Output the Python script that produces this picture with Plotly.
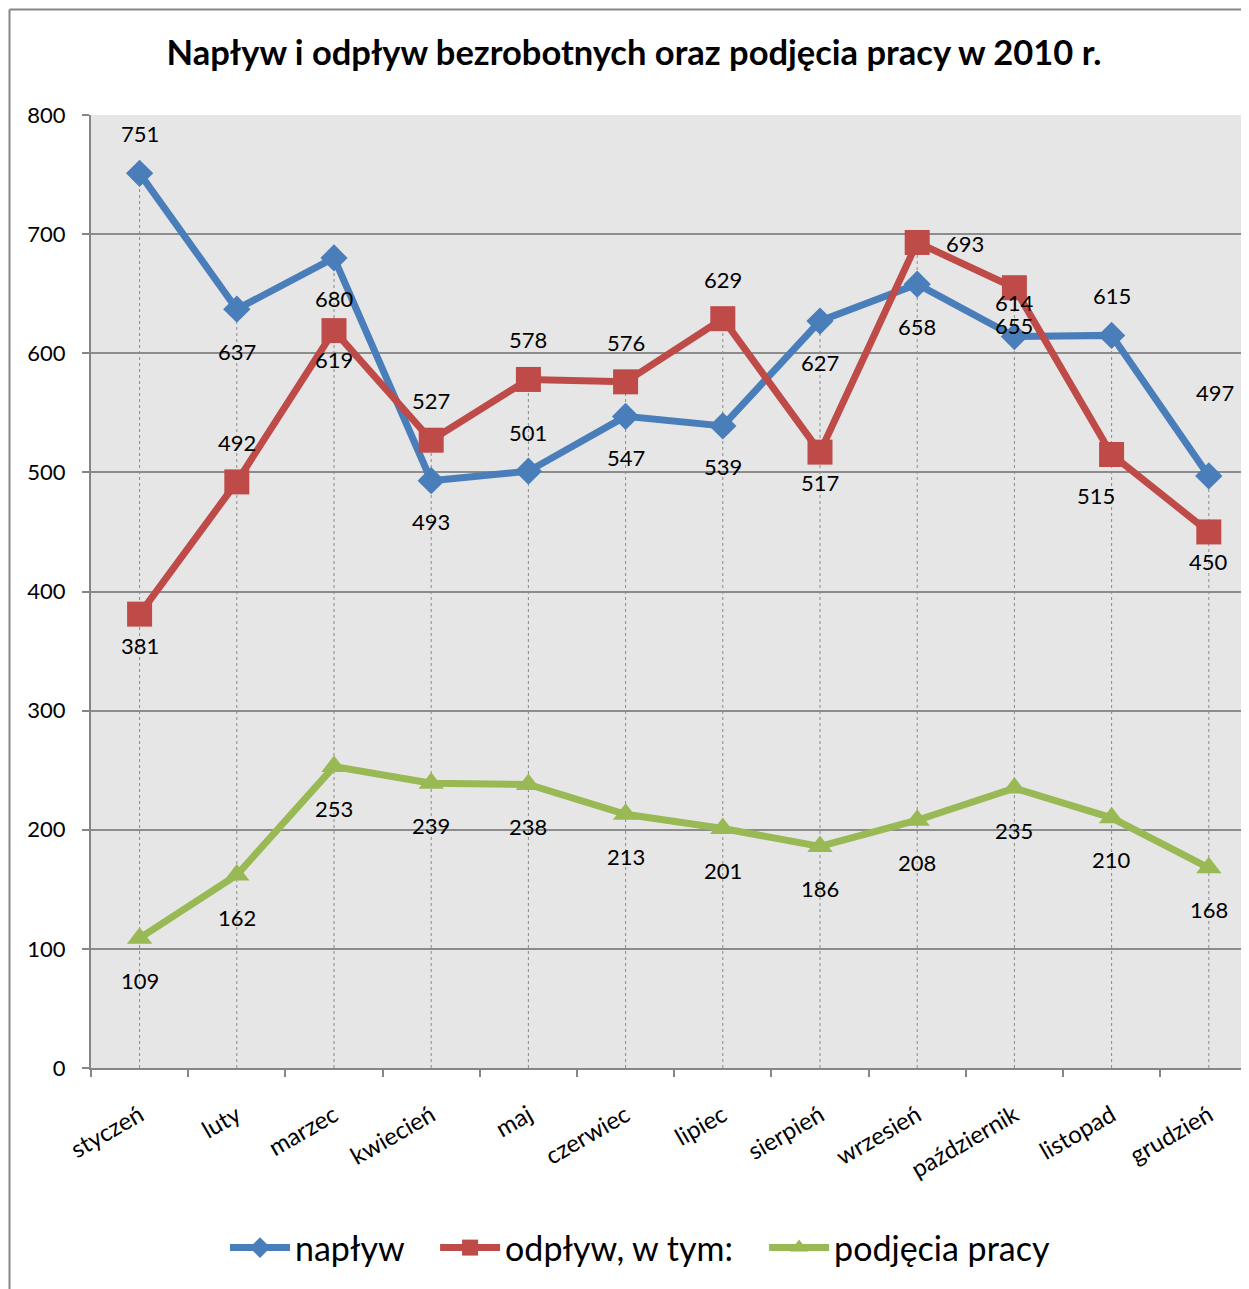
import plotly.graph_objects as go

months = ["styczeń", "luty", "marzec", "kwiecień", "maj", "czerwiec", "lipiec",
          "sierpień", "wrzesień", "październik", "listopad", "grudzień"]
naplyw = [751, 637, 680, 493, 501, 547, 539, 627, 658, 614, 615, 497]
odplyw = [381, 492, 619, 527, 578, 576, 629, 517, 693, 655, 515, 450]
podjecia = [109, 162, 253, 239, 238, 213, 201, 186, 208, 235, 210, 168]
y_ticks = [0, 100, 200, 300, 400, 500, 600, 700, 800]
title_text = "Napływ i odpływ bezrobotnych oraz podjęcia pracy w 2010 r."
legend_names = ["napływ", "odpływ, w tym:", "podjęcia pracy"]

# label offsets in pixels (dx, dy): styling only
naplyw_off = [(0, 40), (0, -42), (0, -41), (0, -41), (0, 39), (0, -41), (0, -41),
              (0, -41), (0, -42), (0, 34), (0, 40), (6, 83)]
odplyw_off = [(0, -31), (0, 39), (0, -29), (0, 40), (0, 40), (0, 39), (0, 39),
              (0, -30), (48, -1), (0, -38), (-16, -41), (0, -30)]
podjecia_off = [(0, -42)] * 12
legend_pad = ["\u00a0" * 3, "\u00a0" * 3, ""]

BLUE = "#4A7EBB"
RED = "#BE4B48"
GREEN = "#98B954"
FONT = "Lato"

idx = list(range(len(months)))
fig = go.Figure()

# drop lines from highest value down to axis
dx, dy = [], []
for i in idx:
    dx += [i, i, None]
    dy += [0, max(naplyw[i], odplyw[i], podjecia[i]), None]
fig.add_trace(go.Scatter(x=dx, y=dy, mode="lines", showlegend=False, hoverinfo="skip",
                         line=dict(color="#8A8A8A", width=1, dash="dot")))

series = [
    (legend_names[0] + legend_pad[0], naplyw, BLUE, "diamond", 21, naplyw_off),
    (legend_names[1] + legend_pad[1], odplyw, RED, "square", 25, odplyw_off),
    (legend_names[2] + legend_pad[2], podjecia, GREEN, "triangle-up", 22, podjecia_off),
]
annotations = []
for name, vals, col, sym, sz, offs in series:
    fig.add_trace(go.Scatter(x=idx, y=vals, name=name, mode="lines+markers",
                             line=dict(color=col, width=7),
                             marker=dict(symbol=sym, size=sz, color=col)))
    for i, v in enumerate(vals):
        annotations.append(dict(x=i, y=v, text=str(v), showarrow=False,
                                xshift=offs[i][0], yshift=offs[i][1],
                                font=dict(family=FONT, size=22, color="#000000")))

OFF = 8  # page body margin
W, H = 1249 - OFF, 1289 - OFF
L, T = 91 - OFF, 115 - OFF
B = H - (1068 - OFF)
plot_w = W - L
plot_h = H - T - B
span = plot_w / 97.2

def px_x(x):  # page pixel -> paper x
    return (x - OFF - L) / plot_w

def px_y(y):  # page pixel -> paper y
    return (1068 - y) / plot_h

fig.update_layout(
    width=W, height=H,
    margin=dict(l=L, r=0, t=T, b=B),
    paper_bgcolor="white",
    plot_bgcolor="#E6E6E6",
    font=dict(family=FONT, size=22, color="#000000"),
    title=dict(text="<b>" + title_text + "</b>", x=(634 - OFF) / W, xanchor="center",
               y=1 - (53 - OFF) / H, yanchor="middle",
               font=dict(family=FONT, size=34.5, color="#000000")),
    showlegend=True,
    legend=dict(orientation="h", xanchor="center", x=px_x(640),
                yanchor="middle", y=px_y(1248),
                font=dict(family=FONT, size=34), itemwidth=60,
                bgcolor="rgba(0,0,0,0)"),
    annotations=annotations,
    shapes=[
        dict(type="line", xref="paper", yref="paper",
             x0=px_x(9.5), x1=px_x(9.5), y0=px_y(9.5), y1=px_y(1300),
             line=dict(color="#868686", width=2)),
        dict(type="line", xref="paper", yref="paper",
             x0=px_x(9.5), x1=px_x(1260), y0=px_y(9.5), y1=px_y(9.5),
             line=dict(color="#868686", width=2)),
    ],
)
fig.update_xaxes(
    type="linear", range=[-0.5, -0.5 + span],
    tickmode="array", tickvals=idx, ticktext=months, tickangle=-30,
    showgrid=False, zeroline=False,
    showline=True, linecolor="#868686", linewidth=2,
    ticks="", ticklabelstandoff=22, tickfont=dict(family=FONT, size=24),
)
# boundary ticks via minor ticks
fig.update_xaxes(minor=dict(tickmode="array", tickvals=[i - 0.5 for i in idx] + [11.5],
                            ticks="outside", ticklen=7, tickcolor="#868686", tickwidth=2,
                            showgrid=False))
fig.update_yaxes(
    range=[0, 800], tickmode="array", tickvals=y_ticks,
    showgrid=True, gridcolor="#8C8C8C", gridwidth=1.5,
    zeroline=False, showline=True, linecolor="#868686", linewidth=2,
    ticks="outside", ticklen=7, tickcolor="#868686", tickwidth=2,
    ticklabelstandoff=12, tickfont=dict(family=FONT, size=22),
)

fig.write_html("out.html")
